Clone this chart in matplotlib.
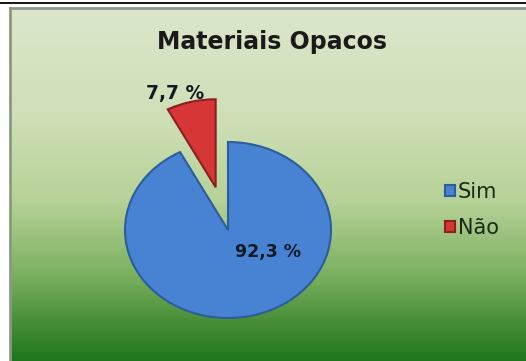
import matplotlib
matplotlib.use("Agg")
import matplotlib.pyplot as plt
import numpy as np
from matplotlib.colors import LinearSegmentedColormap
from matplotlib.lines import Line2D

# data
labels = ["Sim", "Não"]
values = [92.3, 7.7]
colors = ["#4782d3", "#d63636"]
edges = ["#2c5d9c", "#8c1f1f"]
title = "Materiais Opacos"

W, H = 526, 361
fig = plt.figure(figsize=(W / 100, H / 100), dpi=100)
fig.patch.set_facecolor("white")

# black rule at the top
fig.add_artist(Line2D([0, 1], [1 - 2.5 / H, 1 - 2.5 / H], color="black", lw=1.3))

# gradient background of chart area
bg = fig.add_axes([10 / W, 0, 1 - 10 / W, (H - 8) / H], zorder=0)
stops = [(0.0, "#dbe6ca"), (0.3, "#cfe0b8"), (0.55, "#b6d196"),
         (0.75, "#7db262"), (0.88, "#4c913a"), (1.0, "#1e761c")]
cmap = LinearSegmentedColormap.from_list("bg", stops)
grad = np.linspace(0, 1, 256).reshape(-1, 1)
bg.imshow(grad, aspect="auto", cmap=cmap, extent=[0, 1, 0, 1], origin="upper")
bg.set_xlim(0, 1)
bg.set_ylim(0, 1)
bg.set_xticks([])
bg.set_yticks([])
for s in ["right", "bottom"]:
    bg.spines[s].set_visible(False)
for s in ["left", "top"]:
    bg.spines[s].set_color("#8a9a80")
    bg.spines[s].set_linewidth(2)

# pie axes, ellipse shaped
cx, cy, rx, ry, k = 228, 230, 103, 88, 1.6
ax = fig.add_axes([(cx - k * rx) / W, (H - cy - k * ry) / H,
                   2 * k * rx / W, 2 * k * ry / H], zorder=2)
wedges, texts, autotexts = ax.pie(
    values, colors=colors, startangle=90, counterclock=False,
    explode=[0, 0.5], autopct=lambda p: f"{p:.1f} %".replace(".", ","),
    pctdistance=0.5,
    wedgeprops=dict(linewidth=1.5),
    textprops=dict(fontsize=12.5, fontweight="bold", color="#111a22"))
for w, e in zip(wedges, edges):
    w.set_edgecolor(e)
ax.set_aspect("auto")
ax.set_xlim(-k, k)
ax.set_ylim(-k, k)
ax.axis("off")
autotexts[0].set_position((0.39, -0.25))
autotexts[1].set_position((-0.51, 1.55))
autotexts[1].set_fontsize(13.5)

fig.text(272 / W, 1 - 42 / H, title, ha="center", va="center",
         fontsize=17, fontweight="bold", color="#1a1a1a", zorder=3)

leg = fig.legend(wedges, labels, loc="center left",
                 bbox_to_anchor=(437 / W, 1 - 210 / H), frameon=False,
                 fontsize=15, handlelength=0.45, handleheight=0.45,
                 handletextpad=0.15, labelspacing=0.75, borderaxespad=0)
for t in leg.get_texts():
    t.set_color("#1a2a1a")

fig.savefig("out.png", dpi=100)
